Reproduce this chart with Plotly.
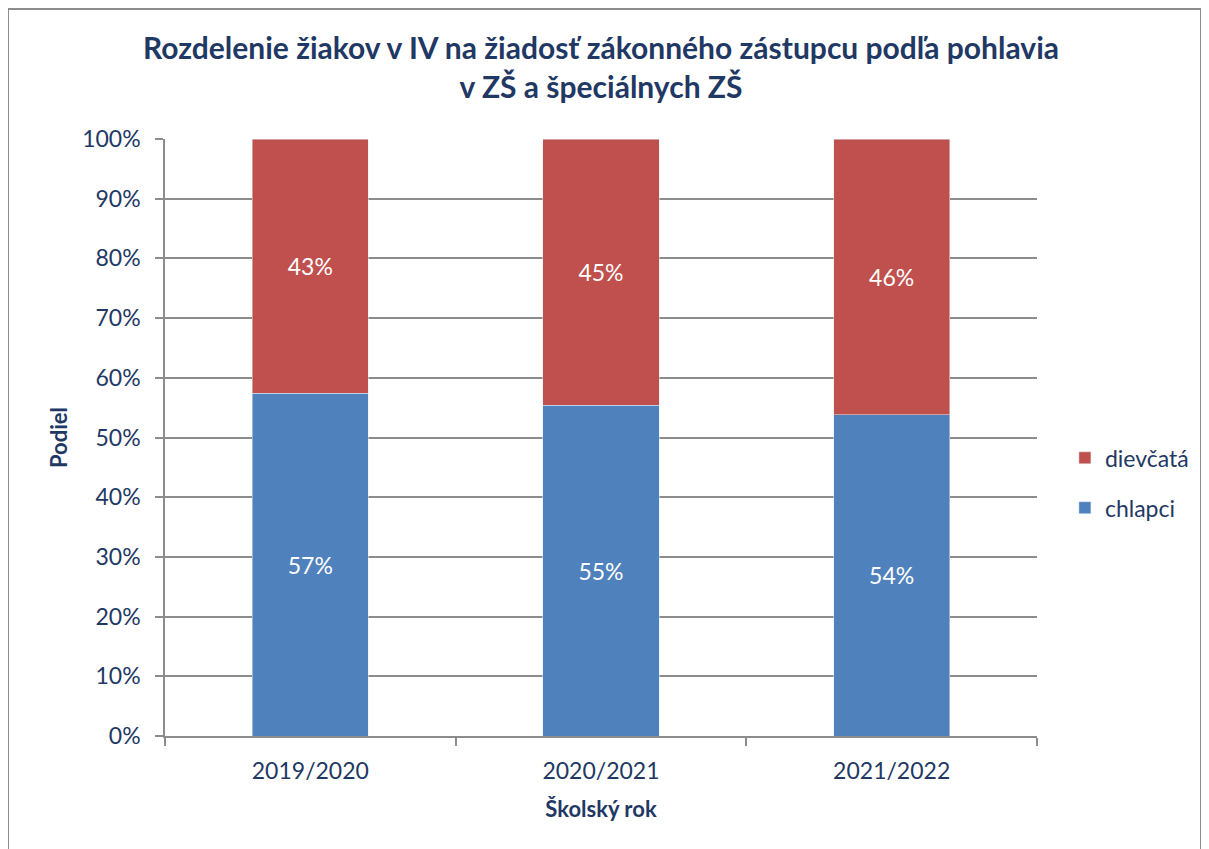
import plotly.graph_objects as go

roky = ["2019/2020", "2020/2021", "2021/2022"]
chlapci = [57.4, 55.4, 53.8]
dievcata = [42.6, 44.6, 46.2]

navy = "#1F3864"
grid = "#8C8C8C"
font = "Lato"

fig = go.Figure()
fig.add_trace(go.Bar(x=roky, y=chlapci, name="chlapci", marker_color="#4F81BD",
                     legendgroup="c", legendrank=2,
                     text=[f"{v:.0f}%" for v in chlapci], textposition="inside",
                     insidetextanchor="middle", width=0.4,
                     textfont=dict(color="white", size=23, family=font)))
fig.add_trace(go.Bar(x=roky, y=dievcata, name="dievčatá", marker_color="#C0504D",
                     legendgroup="d", legendrank=1,
                     text=[f"{v:.0f}%" for v in dievcata], textposition="inside",
                     insidetextanchor="middle", width=0.4,
                     textfont=dict(color="white", size=23, family=font)))

# stránka má okraj 8 px, preto okraje o 8 px menšie vľavo a hore
fig.update_layout(
    width=1209, height=849,
    barmode="stack",
    plot_bgcolor="white", paper_bgcolor="white",
    margin=dict(l=157, r=180, t=131, b=121),
    font=dict(family=font, color=navy, size=23),
    title=dict(text="<b>Rozdelenie žiakov v IV na žiadosť zákonného zástupcu podľa pohlavia<br>v ZŠ a špeciálnych ZŠ</b>",
               x=0.5, xanchor="center", xref="paper", y=0.94, yanchor="bottom", yref="container",
               font=dict(size=30, color=navy, family=font)),
    legend=dict(x=1.032, y=0.424, xanchor="left", yanchor="middle",
                traceorder="grouped", tracegroupgap=17,
                font=dict(size=23, color=navy)),
    showlegend=True,
)
fig.update_yaxes(range=[0, 100], dtick=10, ticksuffix="%", showgrid=True, gridcolor=grid,
                 gridwidth=1.5, showline=True, linecolor=grid, linewidth=1.5,
                 ticks="outside", ticklen=8, tickcolor=grid, tickwidth=1.5,
                 ticklabelstandoff=10,
                 zeroline=False, tickfont=dict(size=23),
                 title=dict(text="<b>Podiel</b>", font=dict(size=22), standoff=8))
fig.update_xaxes(showline=True, linecolor=grid, linewidth=1.5, ticks="outside",
                 tickson="boundaries", ticklen=8, tickcolor=grid, tickwidth=1.5,
                 ticklabelstandoff=14,
                 tickfont=dict(size=23),
                 title=dict(text="<b>Školský rok</b>", font=dict(size=22), standoff=18))

# rámček grafu (súradnice stránky)
for x0, y0, x1, y1 in [(8, 9, 1201, 9), (8, 9, 8, 849), (1201, 9, 1201, 849)]:
    fig.add_shape(type="line", xref="paper", yref="paper",
                  x0=(x0 - 165) / 872, x1=(x1 - 165) / 872,
                  y0=(736 - y0) / 597, y1=(736 - y1) / 597,
                  line=dict(color="#8C8C8C", width=2))

fig.write_html("out.html")
